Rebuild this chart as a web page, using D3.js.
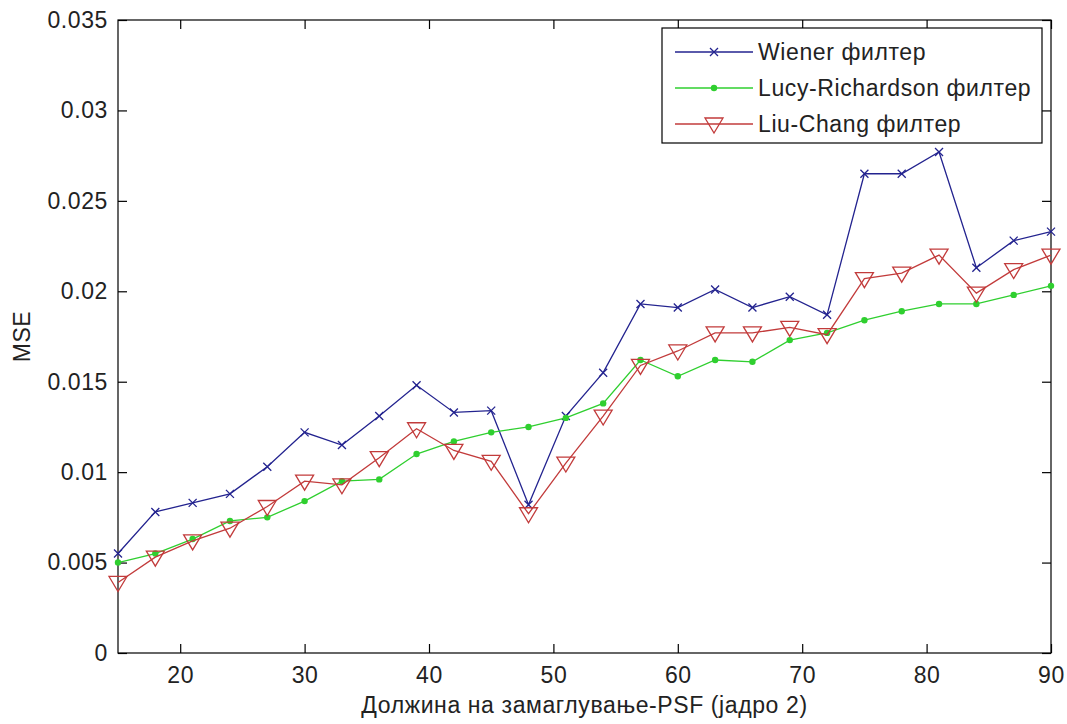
<!DOCTYPE html>
<html>
<head>
<meta charset="utf-8">
<script src="https://cdn.jsdelivr.net/npm/d3@7"></script>
<style>
  body { margin: 0; background: #fff; }
  text { font-family: "Liberation Sans", Arial, sans-serif; fill: #222; }
</style>
</head>
<body>
<svg id="chart" width="1067" height="724"></svg>
<script>
// PSF blur length (kernel 2)
const blurLength = [15, 18, 21, 24, 27, 30, 33, 36, 39, 42, 45, 48, 51, 54, 57, 60, 63, 66, 69, 72, 75, 78, 81, 84, 87, 90];

// MSE per restoration filter
const wienerMSE = [0.0055, 0.0078, 0.0083, 0.0088, 0.0103, 0.0122, 0.0115, 0.0131, 0.0148, 0.0133, 0.0134, 0.0082, 0.0131,
                   0.0155, 0.0193, 0.0191, 0.0201, 0.0191, 0.0197, 0.0187, 0.0265, 0.0265, 0.0277, 0.0213, 0.0228, 0.0233];
const lucyMSE   = [0.0050, 0.0055, 0.0063, 0.0073, 0.0075, 0.0084, 0.0095, 0.0096, 0.0110, 0.0117, 0.0122, 0.0125, 0.0130,
                   0.0138, 0.0162, 0.0153, 0.0162, 0.0161, 0.0173, 0.0177, 0.0184, 0.0189, 0.0193, 0.0193, 0.0198, 0.0203];
const liuMSE    = [0.0039, 0.0053, 0.0062, 0.0069, 0.0081, 0.0095, 0.0093, 0.0108, 0.0124, 0.0112, 0.0106, 0.0077, 0.0105,
                   0.0131, 0.0159, 0.0167, 0.0177, 0.0177, 0.0180, 0.0176, 0.0207, 0.0210, 0.0220, 0.0199, 0.0212, 0.0220];

const seriesNames = ["Wiener филтер", "Lucy-Richardson филтер", "Liu-Chang филтер"];
const xTicks = [20, 30, 40, 50, 60, 70, 80, 90];
const yTicks = [0, 0.005, 0.01, 0.015, 0.02, 0.025, 0.03, 0.035];
const xLabel = "Должина на замаглување-PSF (јадро 2)";
const yLabel = "MSE";

const svg = d3.select("#chart");
const plot = { left: 118, right: 1051, top: 20, bottom: 653 };

const x = d3.scaleLinear().domain([15, 90]).range([plot.left, plot.right]);
const y = d3.scaleLinear().domain([0, 0.035]).range([plot.bottom, plot.top]);

const fontSize = 23, spacing = 0.6;
const tickLen = 9;

// frame
svg.append("rect")
  .attr("x", plot.left).attr("y", plot.top)
  .attr("width", plot.right - plot.left).attr("height", plot.bottom - plot.top)
  .attr("fill", "none").attr("stroke", "#000").attr("stroke-width", 1.2);

function styleAxis(g) {
  g.select(".domain").remove();
  g.selectAll(".tick line").attr("stroke", "#000").attr("stroke-width", 1.2);
  g.selectAll(".tick text").attr("font-size", fontSize).attr("letter-spacing", spacing)
    .attr("fill", "#222").style("font-family", '"Liberation Sans", Arial, sans-serif');
}

// axes with inward ticks, mirrored on top/right
svg.append("g").attr("transform", `translate(0,${plot.bottom})`)
  .call(d3.axisBottom(x).tickValues(xTicks).tickSize(-tickLen).tickPadding(14).tickFormat(d3.format("d")))
  .call(styleAxis);
svg.append("g").attr("transform", `translate(0,${plot.top})`)
  .call(d3.axisTop(x).tickValues(xTicks).tickSize(-tickLen).tickFormat(""))
  .call(styleAxis);
svg.append("g").attr("transform", `translate(${plot.left},0)`)
  .call(d3.axisLeft(y).tickValues(yTicks).tickSize(-tickLen).tickPadding(10).tickFormat(d => d === 0 ? "0" : String(+d.toFixed(3))))
  .call(styleAxis);
svg.append("g").attr("transform", `translate(${plot.right},0)`)
  .call(d3.axisRight(y).tickValues(yTicks).tickSize(-tickLen).tickFormat(""))
  .call(styleAxis);

// axis titles
svg.append("text")
  .attr("x", (plot.left + plot.right) / 2).attr("y", 713)
  .attr("text-anchor", "middle").attr("font-size", fontSize).attr("letter-spacing", spacing)
  .text(xLabel);
svg.append("text")
  .attr("transform", `translate(30,${(plot.top + plot.bottom) / 2}) rotate(-90)`)
  .attr("text-anchor", "middle").attr("font-size", fontSize).attr("letter-spacing", spacing)
  .text(yLabel);

// marker drawers
const markers = {
  cross: (g, cx, cy, color) => g.append("path")
    .attr("d", `M${cx - 4},${cy - 4}L${cx + 4},${cy + 4}M${cx - 4},${cy + 4}L${cx + 4},${cy - 4}`)
    .attr("stroke", color).attr("stroke-width", 1.3).attr("fill", "none"),
  dot: (g, cx, cy, color) => g.append("circle")
    .attr("cx", cx).attr("cy", cy).attr("r", 3.2).attr("fill", color),
  triangle: (g, cx, cy, color) => g.append("path")
    .attr("d", `M${cx - 9},${cy - 6}L${cx + 9},${cy - 6}L${cx},${cy + 9}Z`)
    .attr("stroke", color).attr("stroke-width", 1.3).attr("fill", "none")
};

const series = [
  { name: seriesNames[0], values: wienerMSE, color: "#23238f", marker: "cross" },
  { name: seriesNames[1], values: lucyMSE,   color: "#2fcf2f", marker: "dot" },
  { name: seriesNames[2], values: liuMSE,    color: "#c23b3b", marker: "triangle" }
];

const line = d3.line().x(d => x(d[0])).y(d => y(d[1]));

series.forEach(s => {
  const pts = blurLength.map((b, i) => [b, s.values[i]]);
  const g = svg.append("g");
  g.append("path").attr("d", line(pts))
    .attr("fill", "none").attr("stroke", s.color).attr("stroke-width", 1.3);
  pts.forEach(p => markers[s.marker](g, x(p[0]), y(p[1]), s.color));
});

// legend
const lg = svg.append("g");
lg.append("rect").attr("x", 662).attr("y", 28).attr("width", 380).attr("height", 115)
  .attr("fill", "#fff").attr("stroke", "#000").attr("stroke-width", 1.2);
series.forEach((s, i) => {
  const ly = 52 + i * 36;
  lg.append("line").attr("x1", 675).attr("x2", 753).attr("y1", ly).attr("y2", ly)
    .attr("stroke", s.color).attr("stroke-width", 1.3);
  markers[s.marker](lg, 714, ly, s.color);
  lg.append("text").attr("x", 758).attr("y", ly).attr("dy", "0.36em")
    .attr("font-size", fontSize).attr("letter-spacing", spacing).text(s.name);
});
</script>
</body>
</html>
